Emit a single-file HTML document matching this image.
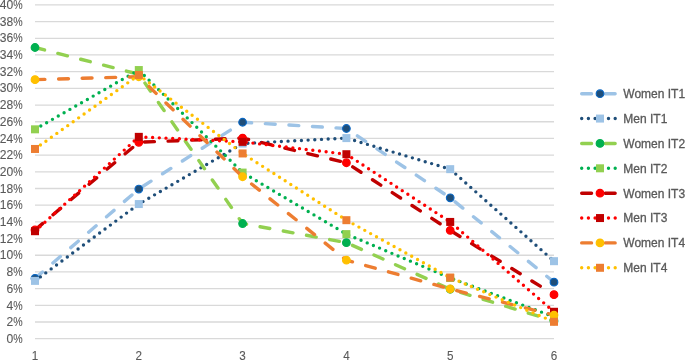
<!DOCTYPE html>
<html><head><meta charset="utf-8"><style>
html,body{margin:0;padding:0;background:#fff;}
body{width:685px;height:360px;overflow:hidden;}
svg{display:block;will-change:transform;}
.ax{font-family:"Liberation Sans",sans-serif;font-size:12.6px;fill:#595959;stroke:#595959;stroke-width:0.1px;}
.lg{font-family:"Liberation Sans",sans-serif;font-size:12px;fill:#595959;stroke:#595959;stroke-width:0.3px;}
</style></head><body>
<svg width="685" height="360" viewBox="0 0 685 360">
<line x1="35.0" y1="338.70" x2="554.0" y2="338.70" stroke="#D9D9D9" stroke-width="1.3"/>
<line x1="35.0" y1="322.01" x2="554.0" y2="322.01" stroke="#D9D9D9" stroke-width="1.3"/>
<line x1="35.0" y1="305.32" x2="554.0" y2="305.32" stroke="#D9D9D9" stroke-width="1.3"/>
<line x1="35.0" y1="288.63" x2="554.0" y2="288.63" stroke="#D9D9D9" stroke-width="1.3"/>
<line x1="35.0" y1="271.94" x2="554.0" y2="271.94" stroke="#D9D9D9" stroke-width="1.3"/>
<line x1="35.0" y1="255.25" x2="554.0" y2="255.25" stroke="#D9D9D9" stroke-width="1.3"/>
<line x1="35.0" y1="238.56" x2="554.0" y2="238.56" stroke="#D9D9D9" stroke-width="1.3"/>
<line x1="35.0" y1="221.87" x2="554.0" y2="221.87" stroke="#D9D9D9" stroke-width="1.3"/>
<line x1="35.0" y1="205.18" x2="554.0" y2="205.18" stroke="#D9D9D9" stroke-width="1.3"/>
<line x1="35.0" y1="188.49" x2="554.0" y2="188.49" stroke="#D9D9D9" stroke-width="1.3"/>
<line x1="35.0" y1="171.80" x2="554.0" y2="171.80" stroke="#D9D9D9" stroke-width="1.3"/>
<line x1="35.0" y1="155.11" x2="554.0" y2="155.11" stroke="#D9D9D9" stroke-width="1.3"/>
<line x1="35.0" y1="138.42" x2="554.0" y2="138.42" stroke="#D9D9D9" stroke-width="1.3"/>
<line x1="35.0" y1="121.73" x2="554.0" y2="121.73" stroke="#D9D9D9" stroke-width="1.3"/>
<line x1="35.0" y1="105.04" x2="554.0" y2="105.04" stroke="#D9D9D9" stroke-width="1.3"/>
<line x1="35.0" y1="88.35" x2="554.0" y2="88.35" stroke="#D9D9D9" stroke-width="1.3"/>
<line x1="35.0" y1="71.66" x2="554.0" y2="71.66" stroke="#D9D9D9" stroke-width="1.3"/>
<line x1="35.0" y1="54.97" x2="554.0" y2="54.97" stroke="#D9D9D9" stroke-width="1.3"/>
<line x1="35.0" y1="38.28" x2="554.0" y2="38.28" stroke="#D9D9D9" stroke-width="1.3"/>
<line x1="35.0" y1="21.59" x2="554.0" y2="21.59" stroke="#D9D9D9" stroke-width="1.3"/>
<line x1="35.0" y1="4.90" x2="554.0" y2="4.90" stroke="#D9D9D9" stroke-width="1.3"/>
<text transform="translate(22.60 342.90) scale(0.84 1)" text-anchor="end" class="ax">%</text>
<text transform="translate(13.20 342.90) scale(0.96 1)" text-anchor="end" class="ax">0</text>
<text transform="translate(22.60 326.20) scale(0.84 1)" text-anchor="end" class="ax">%</text>
<text transform="translate(13.20 326.20) scale(0.96 1)" text-anchor="end" class="ax">2</text>
<text transform="translate(22.60 309.50) scale(0.84 1)" text-anchor="end" class="ax">%</text>
<text transform="translate(13.20 309.50) scale(0.96 1)" text-anchor="end" class="ax">4</text>
<text transform="translate(22.60 292.80) scale(0.84 1)" text-anchor="end" class="ax">%</text>
<text transform="translate(13.20 292.80) scale(0.96 1)" text-anchor="end" class="ax">6</text>
<text transform="translate(22.60 276.10) scale(0.84 1)" text-anchor="end" class="ax">%</text>
<text transform="translate(13.20 276.10) scale(0.96 1)" text-anchor="end" class="ax">8</text>
<text transform="translate(22.60 259.40) scale(0.84 1)" text-anchor="end" class="ax">%</text>
<text transform="translate(13.20 259.40) scale(0.96 1)" text-anchor="end" class="ax">10</text>
<text transform="translate(22.60 242.70) scale(0.84 1)" text-anchor="end" class="ax">%</text>
<text transform="translate(13.20 242.70) scale(0.96 1)" text-anchor="end" class="ax">12</text>
<text transform="translate(22.60 226.00) scale(0.84 1)" text-anchor="end" class="ax">%</text>
<text transform="translate(13.20 226.00) scale(0.96 1)" text-anchor="end" class="ax">14</text>
<text transform="translate(22.60 209.30) scale(0.84 1)" text-anchor="end" class="ax">%</text>
<text transform="translate(13.20 209.30) scale(0.96 1)" text-anchor="end" class="ax">16</text>
<text transform="translate(22.60 192.60) scale(0.84 1)" text-anchor="end" class="ax">%</text>
<text transform="translate(13.20 192.60) scale(0.96 1)" text-anchor="end" class="ax">18</text>
<text transform="translate(22.60 175.90) scale(0.84 1)" text-anchor="end" class="ax">%</text>
<text transform="translate(13.20 175.90) scale(0.96 1)" text-anchor="end" class="ax">20</text>
<text transform="translate(22.60 159.20) scale(0.84 1)" text-anchor="end" class="ax">%</text>
<text transform="translate(13.20 159.20) scale(0.96 1)" text-anchor="end" class="ax">22</text>
<text transform="translate(22.60 142.50) scale(0.84 1)" text-anchor="end" class="ax">%</text>
<text transform="translate(13.20 142.50) scale(0.96 1)" text-anchor="end" class="ax">24</text>
<text transform="translate(22.60 125.80) scale(0.84 1)" text-anchor="end" class="ax">%</text>
<text transform="translate(13.20 125.80) scale(0.96 1)" text-anchor="end" class="ax">26</text>
<text transform="translate(22.60 109.10) scale(0.84 1)" text-anchor="end" class="ax">%</text>
<text transform="translate(13.20 109.10) scale(0.96 1)" text-anchor="end" class="ax">28</text>
<text transform="translate(22.60 92.40) scale(0.84 1)" text-anchor="end" class="ax">%</text>
<text transform="translate(13.20 92.40) scale(0.96 1)" text-anchor="end" class="ax">30</text>
<text transform="translate(22.60 75.70) scale(0.84 1)" text-anchor="end" class="ax">%</text>
<text transform="translate(13.20 75.70) scale(0.96 1)" text-anchor="end" class="ax">32</text>
<text transform="translate(22.60 59.00) scale(0.84 1)" text-anchor="end" class="ax">%</text>
<text transform="translate(13.20 59.00) scale(0.96 1)" text-anchor="end" class="ax">34</text>
<text transform="translate(22.60 42.30) scale(0.84 1)" text-anchor="end" class="ax">%</text>
<text transform="translate(13.20 42.30) scale(0.96 1)" text-anchor="end" class="ax">36</text>
<text transform="translate(22.60 25.60) scale(0.84 1)" text-anchor="end" class="ax">%</text>
<text transform="translate(13.20 25.60) scale(0.96 1)" text-anchor="end" class="ax">38</text>
<text transform="translate(22.60 8.90) scale(0.84 1)" text-anchor="end" class="ax">%</text>
<text transform="translate(13.20 8.90) scale(0.96 1)" text-anchor="end" class="ax">40</text>
<text transform="translate(35.00 360.0) scale(0.93 1)" text-anchor="middle" class="ax">1</text>
<text transform="translate(138.80 360.0) scale(0.93 1)" text-anchor="middle" class="ax">2</text>
<text transform="translate(242.60 360.0) scale(0.93 1)" text-anchor="middle" class="ax">3</text>
<text transform="translate(346.40 360.0) scale(0.93 1)" text-anchor="middle" class="ax">4</text>
<text transform="translate(450.20 360.0) scale(0.93 1)" text-anchor="middle" class="ax">5</text>
<text transform="translate(554.00 360.0) scale(0.93 1)" text-anchor="middle" class="ax">6</text>
<polyline points="35.00,278.38 138.80,189.04 242.60,122.24 346.40,128.50 450.20,197.80 554.00,282.14" fill="none" stroke="#9DC3E6" stroke-width="3.4" stroke-dasharray="9.85 13.75" stroke-linecap="round" stroke-linejoin="round"/>
<circle cx="35.00" cy="278.38" r="3.8" fill="#1F4E79" stroke="#0B68C4" stroke-width="1.2"/>
<circle cx="138.80" cy="189.04" r="3.8" fill="#1F4E79" stroke="#0B68C4" stroke-width="1.2"/>
<circle cx="242.60" cy="122.24" r="3.8" fill="#1F4E79" stroke="#0B68C4" stroke-width="1.2"/>
<circle cx="346.40" cy="128.50" r="3.8" fill="#1F4E79" stroke="#0B68C4" stroke-width="1.2"/>
<circle cx="450.20" cy="197.80" r="3.8" fill="#1F4E79" stroke="#0B68C4" stroke-width="1.2"/>
<circle cx="554.00" cy="282.14" r="3.8" fill="#1F4E79" stroke="#0B68C4" stroke-width="1.2"/>
<polyline points="35.00,280.88 138.80,204.06 242.60,143.53 346.40,138.10 450.20,169.16 554.00,261.18" fill="none" stroke="#1F4E79" stroke-width="3.4" stroke-dasharray="0 6.7" stroke-linecap="round" stroke-linejoin="round"/>
<rect x="31.00" y="276.88" width="8.0" height="8.0" fill="#9DC3E6"/>
<rect x="134.80" y="200.06" width="8.0" height="8.0" fill="#9DC3E6"/>
<rect x="238.60" y="139.53" width="8.0" height="8.0" fill="#9DC3E6"/>
<rect x="342.40" y="134.10" width="8.0" height="8.0" fill="#9DC3E6"/>
<rect x="446.20" y="165.16" width="8.0" height="8.0" fill="#9DC3E6"/>
<rect x="550.00" y="257.18" width="8.0" height="8.0" fill="#9DC3E6"/>
<polyline points="35.00,47.50 138.80,74.22 242.60,223.52 346.40,242.64 450.20,289.24 554.00,320.96" fill="none" stroke="#92D050" stroke-width="3.4" stroke-dasharray="9.85 13.75" stroke-linecap="round" stroke-linejoin="round"/>
<circle cx="35.00" cy="47.50" r="3.8" fill="#00B050" stroke="#00B050" stroke-width="1.2"/>
<circle cx="138.80" cy="74.22" r="3.8" fill="#00B050" stroke="#00B050" stroke-width="1.2"/>
<circle cx="242.60" cy="223.52" r="3.8" fill="#00B050" stroke="#00B050" stroke-width="1.2"/>
<circle cx="346.40" cy="242.64" r="3.8" fill="#00B050" stroke="#00B050" stroke-width="1.2"/>
<circle cx="450.20" cy="289.24" r="3.8" fill="#00B050" stroke="#00B050" stroke-width="1.2"/>
<circle cx="554.00" cy="320.96" r="3.8" fill="#00B050" stroke="#00B050" stroke-width="1.2"/>
<polyline points="35.00,129.33 138.80,70.05 242.60,172.59 346.40,234.12 450.20,277.96 554.00,316.79" fill="none" stroke="#00B050" stroke-width="3.4" stroke-dasharray="0 6.7" stroke-linecap="round" stroke-linejoin="round"/>
<rect x="31.00" y="125.33" width="8.0" height="8.0" fill="#92D050"/>
<rect x="134.80" y="66.05" width="8.0" height="8.0" fill="#92D050"/>
<rect x="238.60" y="168.59" width="8.0" height="8.0" fill="#92D050"/>
<rect x="342.40" y="230.12" width="8.0" height="8.0" fill="#92D050"/>
<rect x="446.20" y="273.96" width="8.0" height="8.0" fill="#92D050"/>
<rect x="550.00" y="312.79" width="8.0" height="8.0" fill="#92D050"/>
<polyline points="35.00,229.95 138.80,142.28 242.60,138.10 346.40,162.73 450.20,230.37 554.00,294.66" fill="none" stroke="#C00000" stroke-width="3.4" stroke-dasharray="9.85 13.75" stroke-linecap="round" stroke-linejoin="round"/>
<circle cx="35.00" cy="229.95" r="3.8" fill="#FF0000" stroke="#FF0000" stroke-width="1.2"/>
<circle cx="138.80" cy="142.28" r="3.8" fill="#FF0000" stroke="#FF0000" stroke-width="1.2"/>
<circle cx="242.60" cy="138.10" r="3.8" fill="#FF0000" stroke="#FF0000" stroke-width="1.2"/>
<circle cx="346.40" cy="162.73" r="3.8" fill="#FF0000" stroke="#FF0000" stroke-width="1.2"/>
<circle cx="450.20" cy="230.37" r="3.8" fill="#FF0000" stroke="#FF0000" stroke-width="1.2"/>
<circle cx="554.00" cy="294.66" r="3.8" fill="#FF0000" stroke="#FF0000" stroke-width="1.2"/>
<polyline points="35.00,231.20 138.80,136.85 242.60,141.86 346.40,154.22 450.20,221.93 554.00,311.78" fill="none" stroke="#FF0000" stroke-width="3.4" stroke-dasharray="0 6.7" stroke-linecap="round" stroke-linejoin="round"/>
<rect x="31.00" y="227.20" width="8.0" height="8.0" fill="#C00000"/>
<rect x="134.80" y="132.85" width="8.0" height="8.0" fill="#C00000"/>
<rect x="238.60" y="137.86" width="8.0" height="8.0" fill="#C00000"/>
<rect x="342.40" y="150.22" width="8.0" height="8.0" fill="#C00000"/>
<rect x="446.20" y="217.93" width="8.0" height="8.0" fill="#C00000"/>
<rect x="550.00" y="307.78" width="8.0" height="8.0" fill="#C00000"/>
<polyline points="35.00,79.65 138.80,76.73 242.60,176.76 346.40,260.18 450.20,288.98 554.00,315.12" fill="none" stroke="#ED7D31" stroke-width="3.4" stroke-dasharray="9.85 13.75" stroke-linecap="round" stroke-linejoin="round"/>
<circle cx="35.00" cy="79.65" r="3.8" fill="#FFC000" stroke="#FFC000" stroke-width="1.2"/>
<circle cx="138.80" cy="76.73" r="3.8" fill="#FFC000" stroke="#FFC000" stroke-width="1.2"/>
<circle cx="242.60" cy="176.76" r="3.8" fill="#FFC000" stroke="#FFC000" stroke-width="1.2"/>
<circle cx="346.40" cy="260.18" r="3.8" fill="#FFC000" stroke="#FFC000" stroke-width="1.2"/>
<circle cx="450.20" cy="288.98" r="3.8" fill="#FFC000" stroke="#FFC000" stroke-width="1.2"/>
<circle cx="554.00" cy="315.12" r="3.8" fill="#FFC000" stroke="#FFC000" stroke-width="1.2"/>
<polyline points="35.00,148.96 138.80,74.97 242.60,153.46 346.40,220.18 450.20,277.55 554.00,321.80" fill="none" stroke="#FFC000" stroke-width="3.4" stroke-dasharray="0 6.7" stroke-linecap="round" stroke-linejoin="round"/>
<rect x="31.00" y="144.96" width="8.0" height="8.0" fill="#ED7D31"/>
<rect x="134.80" y="70.97" width="8.0" height="8.0" fill="#ED7D31"/>
<rect x="238.60" y="149.46" width="8.0" height="8.0" fill="#ED7D31"/>
<rect x="342.40" y="216.18" width="8.0" height="8.0" fill="#ED7D31"/>
<rect x="446.20" y="273.55" width="8.0" height="8.0" fill="#ED7D31"/>
<rect x="550.00" y="317.80" width="8.0" height="8.0" fill="#ED7D31"/>
<line x1="581.7" y1="93.70" x2="615.4" y2="93.70" stroke="#9DC3E6" stroke-width="3.4" stroke-dasharray="9.85 13.75" stroke-linecap="round"/>
<circle cx="600.00" cy="93.70" r="3.8" fill="#1F4E79" stroke="#0B68C4" stroke-width="1.2"/>
<text x="623.3" y="98.10" class="lg">Women IT1</text>
<line x1="581.7" y1="118.57" x2="615.4" y2="118.57" stroke="#1F4E79" stroke-width="3.4" stroke-dasharray="0 6.7" stroke-linecap="round"/>
<rect x="596.00" y="114.57" width="8.0" height="8.0" fill="#9DC3E6"/>
<text x="623.3" y="122.97" class="lg">Men IT1</text>
<line x1="581.7" y1="143.44" x2="615.4" y2="143.44" stroke="#92D050" stroke-width="3.4" stroke-dasharray="9.85 13.75" stroke-linecap="round"/>
<circle cx="600.00" cy="143.44" r="3.8" fill="#00B050" stroke="#00B050" stroke-width="1.2"/>
<text x="623.3" y="147.84" class="lg">Women IT2</text>
<line x1="581.7" y1="168.31" x2="615.4" y2="168.31" stroke="#00B050" stroke-width="3.4" stroke-dasharray="0 6.7" stroke-linecap="round"/>
<rect x="596.00" y="164.31" width="8.0" height="8.0" fill="#92D050"/>
<text x="623.3" y="172.71" class="lg">Men IT2</text>
<line x1="581.7" y1="193.18" x2="615.4" y2="193.18" stroke="#C00000" stroke-width="3.4" stroke-dasharray="9.85 13.75" stroke-linecap="round"/>
<circle cx="600.00" cy="193.18" r="3.8" fill="#FF0000" stroke="#FF0000" stroke-width="1.2"/>
<text x="623.3" y="197.58" class="lg">Women IT3</text>
<line x1="581.7" y1="218.05" x2="615.4" y2="218.05" stroke="#FF0000" stroke-width="3.4" stroke-dasharray="0 6.7" stroke-linecap="round"/>
<rect x="596.00" y="214.05" width="8.0" height="8.0" fill="#C00000"/>
<text x="623.3" y="222.45" class="lg">Men IT3</text>
<line x1="581.7" y1="242.92" x2="615.4" y2="242.92" stroke="#ED7D31" stroke-width="3.4" stroke-dasharray="9.85 13.75" stroke-linecap="round"/>
<circle cx="600.00" cy="242.92" r="3.8" fill="#FFC000" stroke="#FFC000" stroke-width="1.2"/>
<text x="623.3" y="247.32" class="lg">Women IT4</text>
<line x1="581.7" y1="267.79" x2="615.4" y2="267.79" stroke="#FFC000" stroke-width="3.4" stroke-dasharray="0 6.7" stroke-linecap="round"/>
<rect x="596.00" y="263.79" width="8.0" height="8.0" fill="#ED7D31"/>
<text x="623.3" y="272.19" class="lg">Men IT4</text>
</svg>
</body></html>
